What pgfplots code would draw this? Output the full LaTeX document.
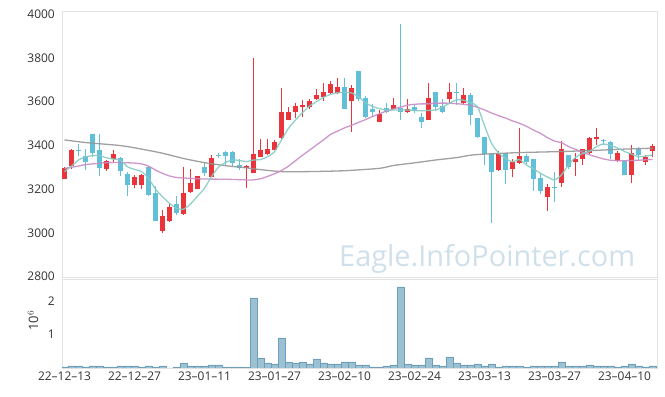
\documentclass[border=0pt]{standalone}
\usepackage{pgfplots}
\pgfplotsset{compat=1.18}
\usepackage{pgfplotstable}
\usepackage{fontspec}
\setmainfont{Open Sans}
\definecolor{cred}{RGB}{232,52,58}
\definecolor{cblue}{RGB}{98,191,216}
\definecolor{mateal}{RGB}{134,203,195}
\definecolor{mapink}{RGB}{201,139,196}
\definecolor{magray}{RGB}{150,150,150}
\definecolor{vfill}{RGB}{156,193,211}
\definecolor{vdraw}{RGB}{110,159,186}
\definecolor{wm}{RGB}{208,224,234}
\definecolor{frame}{RGB}{226,226,226}

\pgfplotstableread{
i O H L C
0 3246 3300 3244 3296
1 3307 3382 3290 3379
6 3292 3332 3283 3328
7 3336 3377 3326 3360
10 3219 3264 3203 3254
11 3219 3270 3202 3265
14 3010 3104 2998 3077
15 3055 3132 3051 3119
17 3085 3302 3083 3184
18 3188 3292 3182 3228
19 3202 3262 3200 3260
21 3257 3356 3255 3340
26 3295 3310 3204 3306
27 3275 3800 3273 3360
28 3348 3428 3346 3379
29 3360 3428 3355 3383
30 3379 3426 3377 3417
31 3432 3664 3430 3554
32 3516 3577 3514 3551
33 3551 3593 3524 3580
34 3574 3608 3532 3585
35 3574 3614 3567 3603
36 3612 3657 3608 3631
37 3620 3684 3603 3643
38 3638 3696 3636 3680
39 3638 3707 3636 3666
41 3605 3676 3463 3661
45 3508 3562 3506 3544
47 3567 3616 3563 3585
49 3551 3612 3549 3567
52 3516 3684 3514 3616
55 3612 3687 3593 3643
57 3593 3661 3591 3631
62 3287 3372 3283 3367
64 3291 3336 3254 3325
65 3318 3478 3316 3351
69 3165 3223 3101 3208
71 3229 3421 3208 3382
73 3323 3367 3260 3336
74 3336 3384 3310 3382
75 3364 3437 3360 3435
76 3428 3478 3402 3437
79 3330 3372 3324 3364
81 3265 3402 3226 3364
83 3323 3356 3310 3346
84 3376 3405 3346 3399
}\uptable

\pgfplotstableread{
i O H L C
2 3380 3406 3351 3374
3 3351 3382 3287 3324
4 3452 3452 3348 3364
5 3379 3452 3262 3296
8 3344 3346 3260 3284
9 3269 3280 3170 3219
12 3300 3305 3170 3175
13 3181 3215 3055 3056
16 3132 3170 3082 3092
20 3302 3323 3258 3275
22 3358 3367 3340 3353
23 3369 3372 3312 3351
24 3370 3372 3305 3318
25 3312 3338 3287 3296
40 3666 3707 3565 3567
42 3740 3740 3605 3612
43 3616 3625 3524 3532
44 3567 3590 3532 3554
46 3570 3593 3547 3554
48 3570 3954 3516 3551
50 3574 3590 3549 3559
51 3532 3547 3478 3508
53 3643 3645 3556 3577
54 3580 3611 3547 3551
56 3643 3684 3585 3638
58 3631 3640 3493 3539
59 3524 3526 3432 3437
60 3437 3437 3310 3360
61 3360 3362 3046 3279
63 3364 3365 3223 3287
66 3351 3362 3316 3325
67 3336 3338 3193 3246
68 3249 3272 3178 3193
70 3210 3280 3140 3205
72 3356 3358 3290 3300
77 3424 3430 3402 3418
78 3417 3420 3336 3360
80 3328 3332 3263 3265
82 3384 3392 3333 3356
}\downtable

\pgfplotstableread{
i V
0 0.03
1 0.06
2 0.06
3 0.03
4 0.06
5 0.06
6 0.03
7 0.03
8 0.06
9 0.06
10 0.06
11 0.03
12 0.06
13 0.03
14 0.06
15 0
16 0.03
17 0.15
18 0.06
19 0.06
20 0.06
21 0.09
22 0.09
23 0.03
24 0.03
25 0.03
26 0.02
27 2.10
28 0.28
29 0.15
30 0.12
31 0.90
32 0.18
33 0.15
34 0.18
35 0.12
36 0.27
37 0.15
38 0.12
39 0.12
40 0.18
41 0.18
42 0.09
43 0.09
44 0.03
45 0.03
46 0.06
47 0.09
48 2.43
49 0.12
50 0.09
51 0.09
52 0.30
53 0.09
54 0.06
55 0.33
56 0.15
57 0.09
58 0.09
59 0.12
60 0.06
61 0.12
62 0.03
63 0.06
64 0.06
65 0.06
66 0.03
67 0.06
68 0.06
69 0.06
70 0.06
71 0.18
72 0.06
73 0.06
74 0.06
75 0.09
76 0.06
77 0.06
78 0.06
79 0.03
80 0.06
81 0.12
82 0.06
83 0.03
84 0.06
}\voltable

\begin{document}
\begin{tikzpicture}
\useasboundingbox (0,0) rectangle (665bp,397bp);
\node[anchor=base west, inner sep=0pt, text=wm, font=\fontsize{29}{34}\selectfont] at (339bp,130bp) {Eagle.InfoPointer.com};

\pgfplotsset{
  every axis/.append style={
    scale only axis, width=595bp,
    xmin=-0.357, xmax=84.64,
    axis line style={draw=frame},
    major tick length=0pt,
    tick label style={font=\fontsize{12}{14}\selectfont, text=black!80},
    /pgf/number format/assume math mode=true,
    /pgf/number format/1000 sep={},
    yticklabel style={inner sep=0pt, xshift=-7bp},
    clip=true,
  },
  candlewick/.style={draw=none, mark=none, forget plot,
    error bars/.cd, y dir=plus, y explicit, error mark=none,
    error bar style={line width=1bp, draw=#1}},
  candlebody/.style={draw=none, mark=none, forget plot,
    error bars/.cd, y dir=plus, y explicit, error mark=none,
    error bar style={line width=4.6bp, draw=#1}},
}

\begin{axis}[
  at={(62bp,120bp)}, anchor=south west, height=266bp,
  ymin=2797.6, ymax=4015,
  ytick={2800,3000,3200,3400,3600,3800,4000},
  xtick=\empty,
]
\addplot[candlewick=cred] table[x=i, y=L, y error expr=\thisrow{H}-\thisrow{L}] {\uptable};
\addplot[candlebody=cred] table[x=i, y=O, y error expr=\thisrow{C}-\thisrow{O}] {\uptable};
\addplot[candlewick=cblue] table[x=i, y=L, y error expr=\thisrow{H}-\thisrow{L}] {\downtable};
\addplot[candlebody=cblue] table[x=i, y=C, y error expr=\thisrow{O}-\thisrow{C}] {\downtable};

\addplot[magray, line width=1.3bp, opacity=0.9, smooth, tension=0.4] coordinates {
(0,3425)(3,3413)(8,3399)(11,3383)(14,3364)(17,3340)(20,3321)(23,3307)(26,3297)(28,3289)(31,3280)(35,3280)(40,3284)(45,3295)(47,3308)(50,3320)(53,3333)(56,3344)(58,3355)(60,3360)(65,3367)(70,3371)(75,3376)(80,3383)(84,3387)};
\addplot[mapink, line width=1.3bp, opacity=0.9, smooth, tension=0.4] coordinates {
(0,3295)(2,3305)(3,3312)(6,3321)(8,3321)(10,3319)(11,3315)(12,3305)(13,3287)(14,3272)(15,3260)(16,3253)(18,3249)(20,3246)(23,3245)(26,3242)(27,3242)(28,3247)(29,3258)(30,3270)(31,3285)(32,3305)(33,3330)(34,3355)(35,3378)(36,3402)(37,3425)(38,3450)(39,3465)(40,3480)(41,3492)(42,3505)(43,3518)(44,3532)(45,3545)(46,3557)(47,3567)(48,3575)(49,3584)(50,3588)(51,3590)(52,3590)(53,3593)(55,3593)(57,3588)(58,3583)(59,3574)(60,3562)(61,3548)(62,3536)(63,3525)(64,3512)(65,3501)(66,3487)(67,3470)(68,3455)(69,3435)(70,3420)(71,3412)(72,3395)(73,3382)(74,3368)(75,3357)(76,3347)(77,3338)(78,3332)(79,3330)(80,3330)(82,3332)(84,3336)};
\addplot[mateal, line width=1.3bp, opacity=0.9, smooth, tension=0.4] coordinates {
(0,3280)(1,3305)(2,3333)(3,3347)(4,3353)(5,3353)(6,3343)(7,3337)(8,3333)(9,3302)(10,3290)(11,3280)(12,3249)(13,3200)(14,3165)(15,3135)(16,3112)(17,3108)(18,3132)(19,3168)(20,3204)(21,3257)(22,3300)(23,3321)(24,3333)(25,3331)(26,3326)(27,3333)(28,3335)(29,3348)(30,3371)(31,3425)(32,3478)(33,3516)(34,3550)(35,3580)(36,3600)(37,3620)(38,3633)(39,3641)(40,3642)(41,3640)(42,3622)(43,3595)(44,3578)(45,3568)(46,3562)(47,3562)(48,3562)(49,3562)(50,3560)(51,3558)(52,3560)(53,3562)(54,3575)(55,3593)(56,3608)(57,3607)(58,3595)(59,3578)(60,3490)(61,3410)(62,3366)(63,3340)(64,3325)(65,3335)(66,3310)(67,3292)(68,3272)(69,3255)(70,3242)(71,3265)(72,3312)(73,3345)(74,3362)(75,3372)(76,3395)(77,3406)(78,3400)(79,3388)(80,3372)(81,3360)(82,3348)(83,3351)(84,3356)};
\end{axis}

\begin{axis}[
  at={(62bp,29bp)}, anchor=south west, height=89bp,
  ymin=0, ymax=2.67,
  ytick={1,2},
  xtick={0,10,20,30,40,50,60,70,80},
  xticklabels={22–12–13,22–12–27,23–01–11,23–01–27,23–02–10,23–02–24,23–03–13,23–03–27,23–04–10},
  xticklabel style={inner sep=0pt, yshift=-4bp},
  ylabel={10$^{6}$},
  ylabel style={at={(axis description cs:-0.0487,0.53)}, anchor=center, font=\fontsize{13}{15}\selectfont, text=black!80},
]
\addplot[ybar, bar width=1, bar shift=0pt, fill=vfill, draw=vdraw, line width=0.6bp] table[x=i, y=V] {\voltable};
\end{axis}
\end{tikzpicture}
\end{document}
